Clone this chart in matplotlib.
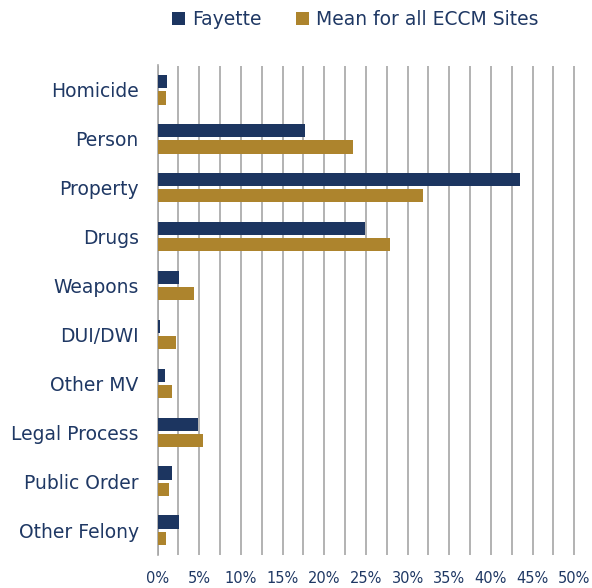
import numpy as np
import matplotlib.pyplot as plt
from matplotlib.ticker import MultipleLocator, PercentFormatter

# Data (percent of cases)
categories = ['Homicide', 'Person', 'Property', 'Drugs', 'Weapons', 'DUI/DWI',
              'Other MV', 'Legal Process', 'Public Order', 'Other Felony']
fayette = [1.1, 17.7, 43.5, 24.9, 2.6, 0.3, 0.9, 4.9, 1.7, 2.6]
eccm_mean = [1.0, 23.4, 31.9, 27.9, 4.4, 2.2, 1.7, 5.4, 1.4, 1.0]

navy = '#1C3560'
gold = '#AD842D'
text_col = '#1F3864'

plt.rcParams['font.family'] = ['DejaVu Sans']

fig = plt.figure(figsize=(5.92, 5.88), dpi=100)
ax = fig.add_axes([157.5 / 592, 1 - 554.5 / 588, (576 - 157.5) / 592, (554.5 - 65.5) / 588])

y = np.arange(len(categories))
h = 0.27
ax.barh(y - h / 2 - 0.03, fayette, height=h, color=navy, label='Fayette', zorder=3)
ax.barh(y + h / 2 + 0.03, eccm_mean, height=h, color=gold, label='Mean for all ECCM Sites', zorder=3)

ax.set_ylim(len(categories) - 0.5, -0.5)
ax.set_xlim(0, 50.2)
ax.set_yticks(y)
ax.set_yticklabels(categories, fontsize=13.5, color=text_col)
ax.tick_params(axis='y', length=0, pad=13.5)

ax.xaxis.set_major_locator(MultipleLocator(5))
ax.xaxis.set_minor_locator(MultipleLocator(2.5))
ax.xaxis.set_major_formatter(PercentFormatter(decimals=0))
ax.tick_params(axis='x', which='both', length=0, labelsize=10.5,
               labelcolor=text_col, pad=12)
ax.grid(axis='x', which='both', color='#A6A6A6', linewidth=1.2, zorder=0)

for s in ['top', 'right', 'bottom']:
    ax.spines[s].set_visible(False)
ax.spines['left'].set_color('#A6A6A6')
ax.spines['left'].set_linewidth(1.2)

fig.legend(loc='upper center', bbox_to_anchor=(0.6, 1.012), ncol=2, frameon=False,
           fontsize=13.5, labelcolor=text_col, handlelength=0.7, handleheight=0.7,
           handletextpad=0.35, columnspacing=1.85)

fig.savefig('out.png', dpi=100)
